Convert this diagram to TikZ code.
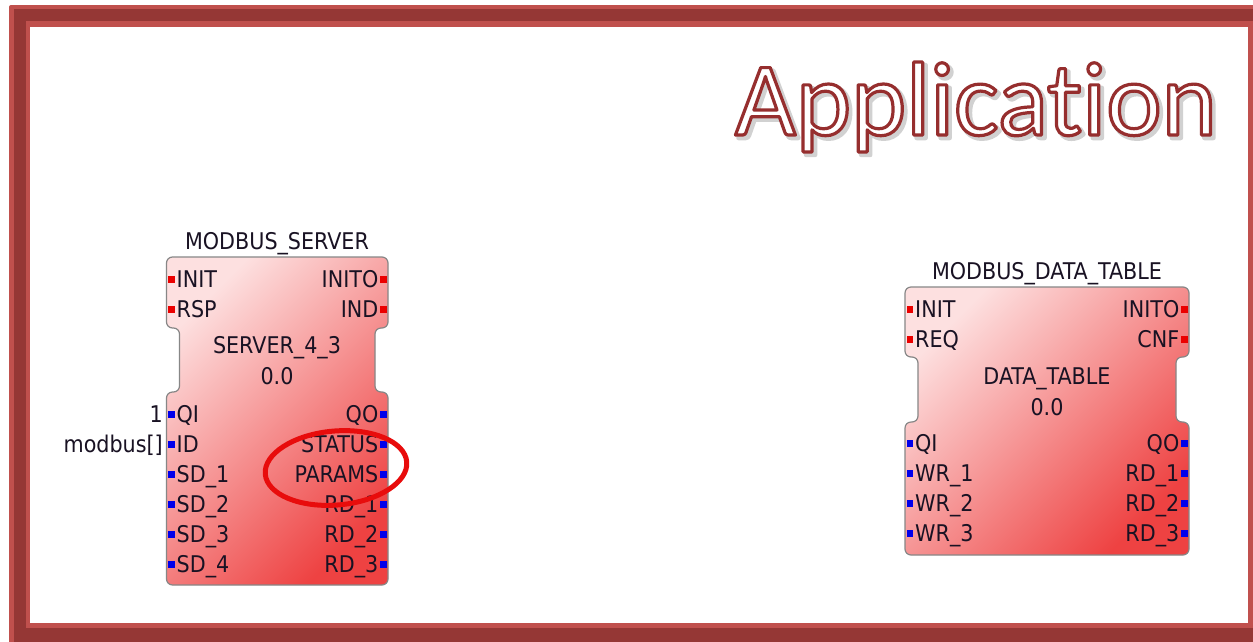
\documentclass[tikz,border=0pt]{standalone}
\usepackage{fontspec}
\setmainfont{DejaVu Sans Condensed}
\newfontfamily\titlefont{Carlito}[Ligatures=NoCommon]

\definecolor{frameLight}{RGB}{192,80,77}
\definecolor{frameDark}{RGB}{149,55,53}
\definecolor{appShadow}{RGB}{205,205,205}
\definecolor{fbTop}{RGB}{253,224,224}
\definecolor{fbBottom}{RGB}{238,66,66}
\definecolor{fbBorder}{RGB}{135,135,135}
\definecolor{evPort}{RGB}{235,0,0}
\definecolor{dataPort}{RGB}{0,0,235}
\definecolor{lblText}{RGB}{25,18,35}
\definecolor{markRed}{RGB}{232,12,12}

% outlined heading text: white fill, coloured stroke (text render mode 2)
\newcommand\outlinetext[3]{% stroke rgb, stroke width, text
  \special{pdf:literal direct 2 Tr #2 w 1 j #1 RG}#3\special{pdf:literal direct 0 Tr}}

\tikzset{
  fbody/.style={draw=fbBorder, line width=1.2pt, rounded corners=6pt,
    top color=fbTop, bottom color=fbBottom, shading angle=45},
  lbl/.style={inner sep=0pt, text=lblText, font=\fontsize{23}{26}\selectfont,
    text height=16.5pt, text depth=0pt},
  inl/.style={lbl, anchor=west},
  outl/.style={lbl, anchor=east},
  ctr/.style={lbl, anchor=center},
  evsq/.style={fill=evPort, minimum size=6.8pt, inner sep=0pt},
  dsq/.style={fill=dataPort, minimum size=6.8pt, inner sep=0pt},
  heading/.style={anchor=base, inner sep=0pt,
    font=\titlefont\fontsize{105}{110}\selectfont},
}

\begin{document}
\begin{tikzpicture}[x=1pt, y=-1pt]
\useasboundingbox (0,0) rectangle (1253,641);
\clip (0,0) rectangle (1253,641);
\fill[white] (0,0) rectangle (1253,641);

% slide frame
\fill[frameLight, rounded corners=2pt] (9,5) rectangle (1280,660);
\fill[frameDark] (14,9) rectangle (1280,660);
\fill[frameLight] (26,21) rectangle (1253,628);
\fill[white] (30,27) rectangle (1248,623);

% heading with a soft drop shadow
\node[heading, text=appShadow] (appshadow) at (979,138)
      {\outlinetext{0.82 0.82 0.82}{4.5}{Application}};
\node[heading, text=white] (apptitle) at (976,135)
      {\outlinetext{0.59 0.18 0.18}{3.2}{Application}};

% ---------- MODBUS_SERVER ----------
\path[fbody] (166.5,257) -- (388,257) -- (388,328) -- (375,328) -- (375,392)
  -- (388,392) -- (388,585) -- (166.5,585) -- (166.5,392) -- (179.5,392)
  -- (179.5,328) -- (166.5,328) -- cycle;
\node[ctr] (srvtype) at (277,241) {MODBUS\_SERVER};
\node[ctr] (srvname) at (277,345) {SERVER\_4\_3};
\node[ctr] (srvver) at (277,376) {0.0};

\foreach \n/\y in {INIT/279.5, RSP/309.5}{
  \node[evsq] (srv-\n-p) at (171.5,\y) {};
  \node[inl] (srv-\n) at (176.5,\y) {\n};
}
\foreach \n/\y in {INITO/279.5, IND/309.5}{
  \node[evsq] (srv-\n-p) at (383.5,\y) {};
  \node[outl] (srv-\n) at (378.5,\y) {\n};
}
\foreach \n/\t/\y in {QI/QI/414.5, ID/ID/444.5, SD1/SD\_1/474.5, SD2/SD\_2/504.5,
                      SD3/SD\_3/534.5, SD4/SD\_4/564.5}{
  \node[dsq] (srv-\n-p) at (171.5,\y) {};
  \node[inl] (srv-\n) at (176.5,\y) {\t};
}
\foreach \n/\t/\y in {QO/QO/414.5, STATUS/STATUS/444.5, PARAMS/PARAMS/474.5,
                      RD1/RD\_1/504.5, RD2/RD\_2/534.5, RD3/RD\_3/564.5}{
  \node[dsq] (srv-\n-p) at (383.5,\y) {};
  \node[outl] (srv-\n) at (378.5,\y) {\t};
}
\node[outl] (qival) at (163,414.5) {1};
\node[outl] (idval) at (163,444.5) {modbus[]};

% highlight around the PARAMS output
\draw[markRed, line width=5pt, rotate around={5:(336,468)}]
  (336,468) ellipse [x radius=71, y radius=37];

% ---------- MODBUS_DATA_TABLE ----------
\path[fbody] (905,287) -- (1189,287) -- (1189,357) -- (1176,357) -- (1176,422)
  -- (1189,422) -- (1189,555) -- (905,555) -- (905,422) -- (918,422)
  -- (918,357) -- (905,357) -- cycle;
\node[ctr] (tbltype) at (1047,271) {MODBUS\_DATA\_TABLE};
\node[ctr] (tblname) at (1047,376) {DATA\_TABLE};
\node[ctr] (tblver) at (1047,407) {0.0};

\foreach \n/\y in {INIT/309.5, REQ/339.5}{
  \node[evsq] (tbl-\n-p) at (910,\y) {};
  \node[inl] (tbl-\n) at (915,\y) {\n};
}
\foreach \n/\y in {INITO/309.5, CNF/339.5}{
  \node[evsq] (tbl-\n-p) at (1184.5,\y) {};
  \node[outl] (tbl-\n) at (1179.5,\y) {\n};
}
\foreach \n/\t/\y in {QI/QI/443.5, WR1/WR\_1/473.5, WR2/WR\_2/503.5, WR3/WR\_3/533.5}{
  \node[dsq] (tbl-\n-p) at (910,\y) {};
  \node[inl] (tbl-\n) at (915,\y) {\t};
}
\foreach \n/\t/\y in {QO/QO/443.5, RD1/RD\_1/473.5, RD2/RD\_2/503.5, RD3/RD\_3/533.5}{
  \node[dsq] (tbl-\n-p) at (1184.5,\y) {};
  \node[outl] (tbl-\n) at (1179.5,\y) {\t};
}
\end{tikzpicture}
\end{document}
